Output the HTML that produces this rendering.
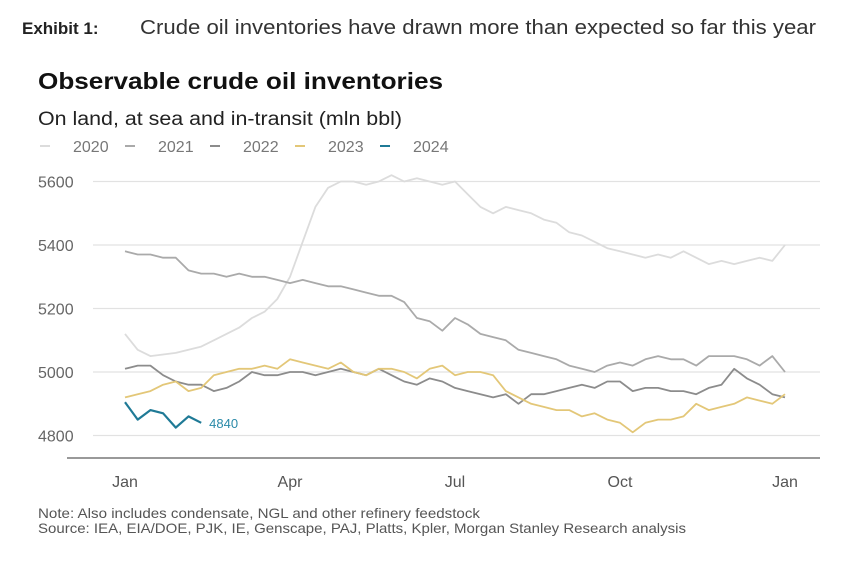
<!DOCTYPE html>
<html><head><meta charset="utf-8"><style>
html,body{margin:0;padding:0;background:#fff;}
svg{display:block;font-family:"Liberation Sans",Arial,sans-serif;}
</style></head><body>
<svg id="chart" width="844" height="564" viewBox="0 0 844 564">
<text x="22" y="34" font-size="17" font-weight="bold" fill="#222">Exhibit 1:</text>
<text x="140" y="34" font-size="20" fill="#333" textLength="676" lengthAdjust="spacingAndGlyphs">Crude oil inventories have drawn more than expected so far this year</text>
<text x="38" y="89" font-size="23" font-weight="bold" fill="#111" textLength="405" lengthAdjust="spacingAndGlyphs">Observable crude oil inventories</text>
<text x="38" y="125" font-size="19" fill="#222" textLength="364" lengthAdjust="spacingAndGlyphs">On land, at sea and in-transit (mln bbl)</text>
<g id="legend"></g>
<g id="grid"></g>
<g id="yticks"></g>
<line x1="67" y1="458" x2="820" y2="458" stroke="#999" stroke-width="2"/>
<g id="xticks"></g>
<g id="series"></g>
<text x="38" y="518" font-size="14" fill="#555" textLength="442" lengthAdjust="spacingAndGlyphs">Note: Also includes condensate, NGL and other refinery feedstock</text>
<text x="38" y="533" font-size="14" fill="#555" textLength="648" lengthAdjust="spacingAndGlyphs">Source: IEA, EIA/DOE, PJK, IE, Genscape, PAJ, Platts, Kpler, Morgan Stanley Research analysis</text>
</svg>
<script>
const years = ["2020","2021","2022","2023","2024"];
const colors = ["#dcdcdc","#aaaaaa","#8c8c8c","#e3c778","#1f7a96"];
const yTicks = [4800,5000,5200,5400,5600];
const xLabels = ["Jan","Apr","Jul","Oct","Jan"];
const xLabelWeeks = [0,13,26,39,52];
const s2020 = [5120,5070,5050,5055,5060,5070,5080,5100,5120,5140,5170,5190,5230,5300,5410,5520,5580,5600,5600,5590,5600,5620,5600,5610,5600,5590,5600,5560,5520,5500,5520,5510,5500,5480,5470,5440,5430,5410,5390,5380,5370,5360,5370,5360,5380,5360,5340,5350,5340,5350,5360,5350,5400];
const s2021 = [5380,5370,5370,5360,5360,5320,5310,5310,5300,5310,5300,5300,5290,5280,5290,5280,5270,5270,5260,5250,5240,5240,5220,5170,5160,5130,5170,5150,5120,5110,5100,5070,5060,5050,5040,5020,5010,5000,5020,5030,5020,5040,5050,5040,5040,5020,5050,5050,5050,5040,5020,5050,5000];
const s2022 = [5010,5020,5020,4990,4970,4960,4960,4940,4950,4970,5000,4990,4990,5000,5000,4990,5000,5010,5000,4990,5010,4990,4970,4960,4980,4970,4950,4940,4930,4920,4930,4900,4930,4930,4940,4950,4960,4950,4970,4970,4940,4950,4950,4940,4940,4930,4950,4960,5010,4980,4960,4930,4920];
const s2023 = [4920,4930,4940,4960,4970,4940,4950,4990,5000,5010,5010,5020,5010,5040,5030,5020,5010,5030,5000,4990,5010,5010,5000,4980,5010,5020,4990,5000,5000,4990,4940,4920,4900,4890,4880,4880,4860,4870,4850,4840,4810,4840,4850,4850,4860,4900,4880,4890,4900,4920,4910,4900,4930];
const s2024 = [4905,4850,4880,4870,4825,4860,4840];
const lastLabel = "4840";

const NS="http://www.w3.org/2000/svg";
const xScale = w => 125 + w*(660/52);
const yScale = v => 372 - (v-5000)*(63.5/200);
function mk(tag, attrs, parent){const e=document.createElementNS(NS,tag);for(const k in attrs)e.setAttribute(k,attrs[k]);parent.appendChild(e);return e;}

const grid=document.getElementById('grid'), yt=document.getElementById('yticks'), xt=document.getElementById('xticks');
yTicks.forEach(v=>{
  const l=mk('line',{x1:93,x2:820,y1:yScale(v),y2:yScale(v),stroke:'#e2e2e2','stroke-width':1.3},grid);
  
  
  const t=mk('text',{x:38,y:yScale(v)+6,'font-size':16,fill:'#666'},yt);
  t.textContent=v;
  
  
});
xLabels.forEach((lab,i)=>{
  const t=mk('text',{x:xScale(xLabelWeeks[i]),y:487,'font-size':16,fill:'#555','text-anchor':'middle'},xt);
  t.textContent=lab;
  
  
});
const seriesData=[s2020,s2021,s2022,s2023,s2024];
const sg=document.getElementById('series');
seriesData.forEach((d,i)=>{
  const pts=d.map((v,w)=>xScale(w).toFixed(1)+','+yScale(v).toFixed(1)).join(' ');
  const p=mk('polyline',{points:pts,fill:'none',stroke:colors[i],'stroke-width':i==4?2.2:1.8,'stroke-linejoin':'round'},sg);
  
  
});
const n=s2024.length-1;
const lbl=mk('text',{x:xScale(n)+8,y:yScale(s2024[n])+5,'font-size':13,fill:'#2a8aa8'},sg);
lbl.textContent=lastLabel;



const lg=document.getElementById('legend');
let lx=40;
years.forEach((y,i)=>{
  const m=mk('line',{x1:lx,x2:lx+10,y1:146,y2:146,stroke:colors[i],'stroke-width':2},lg);
  
  
  const t=mk('text',{x:lx+33,y:152,'font-size':16,fill:'#777'},lg);
  t.textContent=y;
  
  
  lx+=85;
});
</script>
</body></html>
